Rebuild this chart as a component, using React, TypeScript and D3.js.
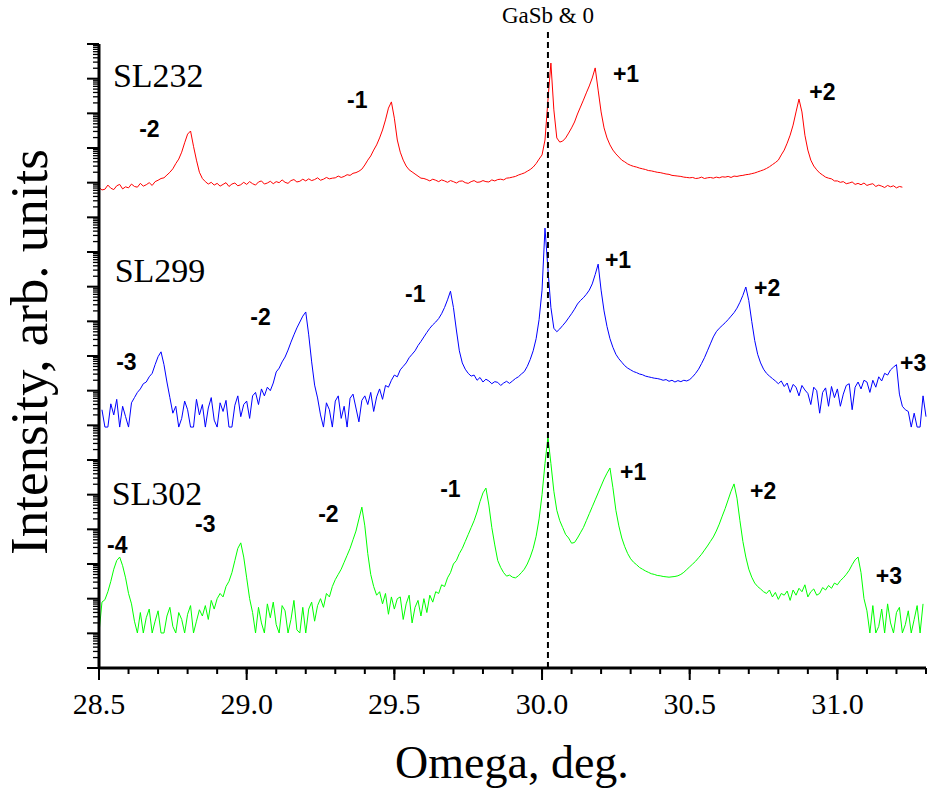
import React from "react";
import * as d3 from "d3";

const WIDTH = 933;
const HEIGHT = 798;

// ---- axes data ----
const xDomain: [number, number] = [28.5, 31.3];
const xMajorTicks = [28.5, 29.0, 29.5, 30.0, 30.5, 31.0];
const xTickLabels = ["28.5", "29.0", "29.5", "30.0", "30.5", "31.0"];
const yDecades = 18; // log axis from 10^0 to 10^18
const xTitle = "Omega, deg.";
const yTitle = "Intensity, arb. units";
const refLabel = "GaSb & 0";
const refOmega = 30.02;

// ---- sample data (log10 of counts, uniform omega step) ----
const omegaStep = 0.01;
const sampleNames = ["SL232", "SL299", "SL302"];
const sampleColors = ["#ff0000", "#0000ff", "#00ff00"];
const sampleStart = [28.5, 28.51, 28.5];
const sampleOffsetDecades = [12, 6, 0];

const sl232LogCounts = [
  1.86, 1.79, 1.81, 1.93, 1.84, 1.80, 1.91, 1.95, 1.82, 1.88,
  1.85, 1.96, 1.89, 1.87, 1.98, 1.90, 1.94, 2.00, 1.92, 2.03,
  2.07, 2.12, 2.14, 2.22, 2.30, 2.40, 2.55, 2.68, 2.88, 3.15,
  3.40, 3.49, 3.05, 2.65, 2.30, 2.12, 2.03, 1.96, 2.01, 1.93,
  1.98, 1.90, 1.95, 2.00, 1.89, 1.96, 1.99, 1.91, 1.94, 2.01,
  1.95, 2.03, 1.97, 1.93, 2.02, 2.05, 1.96, 1.99, 2.04, 1.97,
  2.03, 2.00, 2.08, 2.01, 1.98, 2.06, 2.09, 2.02, 2.04, 2.10,
  2.05, 2.11, 2.06, 2.09, 2.14, 2.07, 2.10, 2.15, 2.11, 2.13,
  2.14, 2.19, 2.15, 2.18, 2.23, 2.21, 2.27, 2.29, 2.33, 2.39,
  2.51, 2.65, 2.77, 2.94, 3.09, 3.29, 3.52, 3.81, 4.15, 4.33,
  3.86, 3.23, 2.88, 2.65, 2.48, 2.37, 2.31, 2.25, 2.19, 2.13,
  2.12, 2.09, 2.05, 2.10, 2.07, 2.03, 2.08, 2.05, 2.01, 2.06,
  2.03, 1.99, 2.04, 2.05, 2.00, 1.98, 2.03, 2.06, 2.01, 2.02,
  2.06, 2.03, 2.02, 2.08, 2.05, 2.09, 2.10, 2.08, 2.13, 2.14,
  2.16, 2.18, 2.22, 2.25, 2.28, 2.33, 2.38, 2.45, 2.55, 2.68,
  2.80, 3.23, 4.38, 5.45, 4.10, 3.29, 3.17, 3.20, 3.29, 3.43,
  3.58, 3.75, 3.98, 4.18, 4.38, 4.59, 4.79, 5.02, 5.31, 4.67,
  4.04, 3.58, 3.29, 3.09, 2.94, 2.83, 2.74, 2.65, 2.60, 2.54,
  2.50, 2.47, 2.45, 2.42, 2.40, 2.38, 2.35, 2.34, 2.32, 2.30,
  2.29, 2.27, 2.25, 2.24, 2.21, 2.20, 2.19, 2.18, 2.16, 2.15,
  2.14, 2.15, 2.12, 2.13, 2.16, 2.12, 2.14, 2.15, 2.13, 2.16,
  2.14, 2.17, 2.16, 2.18, 2.15, 2.19, 2.18, 2.20, 2.21, 2.23,
  2.24, 2.26, 2.28, 2.31, 2.34, 2.37, 2.41, 2.46, 2.52, 2.58,
  2.65, 2.80, 2.94, 3.14, 3.37, 3.66, 4.04, 4.41, 4.04, 3.37,
  2.94, 2.65, 2.48, 2.37, 2.28, 2.22, 2.16, 2.13, 2.11, 2.05,
  2.05, 2.01, 2.03, 1.97, 1.99, 2.02, 1.95, 1.98, 1.94, 1.99,
  1.92, 1.95, 1.97, 1.89, 1.93, 1.90, 1.86, 1.92, 1.88, 1.91,
  1.85, 1.89, 1.87,
];

const sl299LogCounts = [
  1.45, 0.95, 0.95, 1.62, 1.30, 1.75, 0.95, 1.55, 1.25,
  0.95, 1.65, 1.80, 1.95, 2.05, 2.20, 2.25, 2.40, 2.50, 2.75,
  2.98, 3.12, 2.75, 2.25, 1.80, 1.35, 1.55, 0.95, 1.20, 1.70,
  1.45, 0.95, 0.95, 1.75, 1.30, 1.60, 0.95, 1.50, 1.80, 1.15,
  0.95, 1.65, 1.40, 1.72, 0.95, 0.95, 1.58, 1.85, 1.25, 1.60,
  1.70, 1.20, 1.85, 1.95, 1.60, 2.05, 1.85, 2.10, 2.00, 2.22,
  2.54, 2.65, 2.83, 2.97, 3.17, 3.40, 3.61, 3.81, 3.98, 4.15,
  4.27, 3.61, 2.83, 2.16, 1.79, 1.30, 0.95, 1.65, 1.45, 0.95,
  1.70, 1.85, 1.20, 1.55, 0.95, 1.78, 1.90, 1.50, 1.10, 1.72,
  1.85, 1.60, 1.95, 1.40, 1.82, 2.05, 1.75, 2.15, 2.10, 2.30,
  2.45, 2.40, 2.60, 2.70, 2.80, 2.95, 3.05, 3.15, 3.30, 3.42,
  3.55, 3.68, 3.80, 3.90, 3.98, 4.08, 4.22, 4.40, 4.62, 4.87,
  4.40, 3.75, 3.15, 2.80, 2.62, 2.50, 2.42, 2.45, 2.30, 2.38,
  2.25, 2.33, 2.28, 2.20, 2.26, 2.24, 2.15, 2.22, 2.27, 2.21,
  2.28, 2.35, 2.40, 2.48, 2.55, 2.70, 2.90, 3.15, 3.50, 4.05,
  4.90, 6.69, 5.50, 4.40, 3.80, 3.70, 3.78, 3.88, 3.98, 4.10,
  4.22, 4.35, 4.50, 4.60, 4.68, 4.78, 4.90, 5.08, 5.35, 5.65,
  4.90, 4.30, 3.85, 3.50, 3.25, 3.05, 2.92, 2.82, 2.72, 2.65,
  2.60, 2.55, 2.52, 2.48, 2.46, 2.42, 2.40, 2.38, 2.36, 2.35,
  2.33, 2.30, 2.32, 2.27, 2.30, 2.25, 2.29, 2.26, 2.30, 2.28,
  2.32, 2.40, 2.50, 2.62, 2.78, 2.95, 3.15, 3.35, 3.55, 3.70,
  3.80, 3.88, 3.96, 4.05, 4.15, 4.25, 4.38, 4.55, 4.75, 4.99,
  4.60, 4.00, 3.45, 3.05, 2.80, 2.62, 2.50, 2.42, 2.35, 2.28,
  2.20, 2.28, 2.12, 2.22, 1.95, 2.18, 2.10, 1.85, 2.15, 2.02,
  1.92, 1.60, 2.10, 2.00, 1.35, 1.95, 2.08, 1.55, 2.12, 1.80,
  2.05, 1.55, 1.90, 2.15, 2.20, 1.45, 2.10, 2.25, 2.05, 2.30,
  2.25, 1.95, 2.30, 2.10, 2.40, 2.28, 2.50, 2.45, 2.60, 2.68,
  2.75, 1.90, 1.55, 1.45, 1.40, 0.95, 1.35, 0.95, 0.95, 1.85, 1.25,
];

const sl302LogCounts = [
  1.01, 1.90, 1.97, 2.20, 2.50, 2.85, 3.10, 3.20, 2.95, 2.60,
  2.15, 1.85, 1.35, 1.01, 1.60, 1.01, 1.45, 1.70, 1.01, 1.35,
  1.65, 1.01, 1.01, 1.50, 1.75, 1.20, 1.01, 1.60, 1.40, 1.01,
  1.55, 1.80, 1.01, 1.35, 1.68, 1.50, 1.80, 1.40, 1.95, 1.70,
  2.00, 2.15, 2.05, 2.35, 2.50, 2.75, 3.10, 3.45, 3.61, 3.20,
  2.60, 2.00, 1.60, 1.01, 1.75, 1.30, 1.01, 1.85, 1.45, 1.90,
  1.25, 1.01, 1.80, 1.65, 1.01, 1.40, 1.95, 1.10, 1.01, 1.75,
  1.01, 1.70, 1.90, 1.35, 1.80, 2.00, 1.75, 2.15, 2.05, 2.35,
  2.55, 2.70, 2.85, 3.05, 3.25, 3.45, 3.70, 3.95, 4.30, 4.64,
  4.10, 3.30, 2.70, 2.35, 2.10, 2.20, 1.85, 2.15, 1.55, 2.05,
  1.70, 2.00, 2.05, 1.40, 1.85, 2.10, 1.30, 1.75, 1.95, 1.50,
  2.00, 1.60, 2.10, 1.90, 2.20, 2.15, 2.40, 2.35, 2.60, 2.75,
  3.00, 3.10, 3.30, 3.45, 3.65, 3.85, 4.05, 4.25, 4.50, 4.80,
  5.05, 5.19, 4.70, 4.05, 3.55, 3.10, 2.90, 2.75, 2.65, 2.68,
  2.62, 2.60, 2.66, 2.75, 2.85, 3.00, 3.20, 3.45, 3.80, 4.30,
  5.00, 5.90, 6.66, 5.90, 5.10, 4.55, 4.25, 4.05, 3.85, 3.75,
  3.60, 3.62, 3.75, 3.90, 4.05, 4.25, 4.45, 4.65, 4.85, 5.05,
  5.25, 5.45, 5.62, 5.77, 5.20, 4.55, 4.10, 3.75, 3.50, 3.30,
  3.15, 3.05, 2.98, 2.90, 2.85, 2.80, 2.76, 2.72, 2.70, 2.67,
  2.66, 2.64, 2.63, 2.62, 2.63, 2.64, 2.66, 2.70, 2.76, 2.84,
  2.92, 3.00, 3.08, 3.18, 3.28, 3.40, 3.52, 3.65, 3.78, 3.95,
  4.15, 4.38, 4.60, 4.85, 5.10, 5.31, 4.90, 4.25, 3.65, 3.20,
  2.85, 2.62, 2.45, 2.35, 2.28, 2.20, 2.15, 2.25, 2.05, 2.18,
  1.98, 2.15, 2.10, 2.22, 1.95, 2.25, 2.10, 2.30, 2.20, 2.40,
  2.05, 2.20, 2.28, 2.10, 2.15, 2.32, 2.25, 2.38, 2.30, 2.45,
  2.40, 2.52, 2.60, 2.70, 2.82, 2.98, 3.12, 3.20, 2.75, 2.00,
  1.65, 1.01, 1.80, 1.01, 1.20, 1.70, 1.01, 1.85, 1.30, 1.01,
  1.60, 1.75, 1.01, 1.25, 1.65, 1.01, 1.40, 1.80, 1.01, 1.85,
];

const sampleLogCounts = [sl232LogCounts, sl299LogCounts, sl302LogCounts];

// sample name labels: omega, log10 intensity (axis units)
const nameLabelOmega = [28.547, 28.553, 28.543];
const nameLabelLog = [16.76, 11.14, 4.7];

// satellite peak labels: text, omega, log10 intensity (axis units)
const sl232PeakText = ["-2", "-1", "+1", "+2"];
const sl232PeakOmega = [28.636, 29.34, 30.24, 30.905];
const sl232PeakLog = [15.32, 16.15, 16.9, 16.38];
const sl299PeakText = ["-3", "-2", "-1", "+1", "+2", "+3"];
const sl299PeakOmega = [28.558, 29.012, 29.536, 30.213, 30.718, 31.212];
const sl299PeakLog = [8.6, 9.89, 10.56, 11.54, 10.73, 8.57];
const sl302PeakText = ["-4", "-3", "-2", "-1", "+1", "+2", "+3"];
const sl302PeakOmega = [28.527, 28.825, 29.242, 29.655, 30.264, 30.704, 31.13];
const sl302PeakLog = [3.32, 3.92, 4.21, 4.93, 5.42, 4.87, 2.42];

const peakTexts = [sl232PeakText, sl299PeakText, sl302PeakText];
const peakOmegas = [sl232PeakOmega, sl299PeakOmega, sl302PeakOmega];
const peakLogs = [sl232PeakLog, sl299PeakLog, sl302PeakLog];

// ---- layout ----
const plotLeft = 99;
const plotRight = 926;
const plotTop = 44;
const plotBottom = 668;
const serif = "'Liberation Serif', 'Times New Roman', serif";
const sans = "'Liberation Sans', Arial, sans-serif";

export default function App() {
  const x = d3.scaleLinear().domain(xDomain).range([plotLeft, plotRight]);
  const y = d3
    .scaleLog()
    .domain([1, Math.pow(10, yDecades)])
    .range([plotBottom, plotTop]);

  const xMinorTicks = d3.range(28.5, 31.3001, 0.1).map((v) => +v.toFixed(2));
  const yMajor = d3.range(0, yDecades + 1).map((k) => Math.pow(10, k));
  const yMinor: number[] = [];
  for (let k = 0; k < yDecades; k++) {
    for (let m = 2; m <= 9; m++) yMinor.push(m * Math.pow(10, k));
  }

  const line = d3
    .line<[number, number]>()
    .x((d) => x(d[0]))
    .y((d) => y(d[1]));

  const series = sampleLogCounts.map((vals, s) =>
    vals.map(
      (v, i) =>
        [sampleStart[s] + i * omegaStep, Math.pow(10, v + sampleOffsetDecades[s])] as [
          number,
          number
        ]
    )
  );

  return (
    <svg
      width={WIDTH}
      height={HEIGHT}
      style={{ position: "absolute", left: 0, top: 0, background: "#fff" }}
    >
      <rect x={0} y={0} width={WIDTH} height={HEIGHT} fill="#fff" />
      {/* curves */}
      {series.map((pts, s) => (
        <path
          key={sampleNames[s]}
          d={line(pts) || ""}
          fill="none"
          stroke={sampleColors[s]}
          strokeWidth={1}
          strokeLinejoin="round"
        />
      ))}

      {/* reference dashed line */}
      <line
        x1={x(refOmega)}
        x2={x(refOmega)}
        y1={plotTop - 12}
        y2={plotBottom}
        stroke="#000"
        strokeWidth={2}
        strokeDasharray="6,4"
      />
      <text
        x={x(refOmega)}
        y={23}
        textAnchor="middle"
        fontFamily={serif}
        fontSize={23}
        fill="#000"
      >
        {refLabel}
      </text>

      {/* y axis */}
      <line x1={plotLeft} x2={plotLeft} y1={plotTop} y2={plotBottom} stroke="#000" strokeWidth={3} />
      {yMajor.map((v, i) => (
        <line key={"ym" + i} x1={plotLeft - 12} x2={plotLeft} y1={y(v)} y2={y(v)} stroke="#000" strokeWidth={2} />
      ))}
      {yMinor.map((v, i) => (
        <line key={"yn" + i} x1={plotLeft - 6} x2={plotLeft} y1={y(v)} y2={y(v)} stroke="#000" strokeWidth={1.3} />
      ))}

      {/* x axis */}
      <line x1={plotLeft} x2={plotRight} y1={plotBottom} y2={plotBottom} stroke="#000" strokeWidth={3} />
      {xMinorTicks.map((v, i) => (
        <line key={"xn" + i} x1={x(v)} x2={x(v)} y1={plotBottom} y2={plotBottom + 6} stroke="#000" strokeWidth={2} />
      ))}
      {xMajorTicks.map((v, i) => (
        <g key={"xm" + i}>
          <line x1={x(v)} x2={x(v)} y1={plotBottom} y2={plotBottom + 12} stroke="#000" strokeWidth={2} />
          <text
            x={x(v)}
            y={714}
            textAnchor="middle"
            fontFamily={serif}
            fontSize={30}
            fill="#000"
          >
            {xTickLabels[i]}
          </text>
        </g>
      ))}

      {/* axis titles */}
      <text x={512} y={778} textAnchor="middle" fontFamily={serif} fontSize={46} fill="#000">
        {xTitle}
      </text>
      <text
        transform={`translate(47,352) rotate(-90)`}
        textAnchor="middle"
        fontFamily={serif}
        fontSize={53}
        fill="#000"
      >
        {yTitle}
      </text>

      {/* sample names */}
      {sampleNames.map((n, s) => (
        <text
          key={"n" + s}
          x={x(nameLabelOmega[s])}
          y={y(Math.pow(10, nameLabelLog[s]))}
          fontFamily={serif}
          fontSize={34}
          fill="#000"
        >
          {n}
        </text>
      ))}

      {/* satellite labels */}
      {peakTexts.map((texts, s) =>
        texts.map((t, i) => (
          <text
            key={"p" + s + "_" + i}
            x={x(peakOmegas[s][i])}
            y={y(Math.pow(10, peakLogs[s][i]))}
            fontFamily={sans}
            fontWeight="bold"
            fontSize={23}
            fill="#000"
          >
            {t}
          </text>
        ))
      )}
    </svg>
  );
}
